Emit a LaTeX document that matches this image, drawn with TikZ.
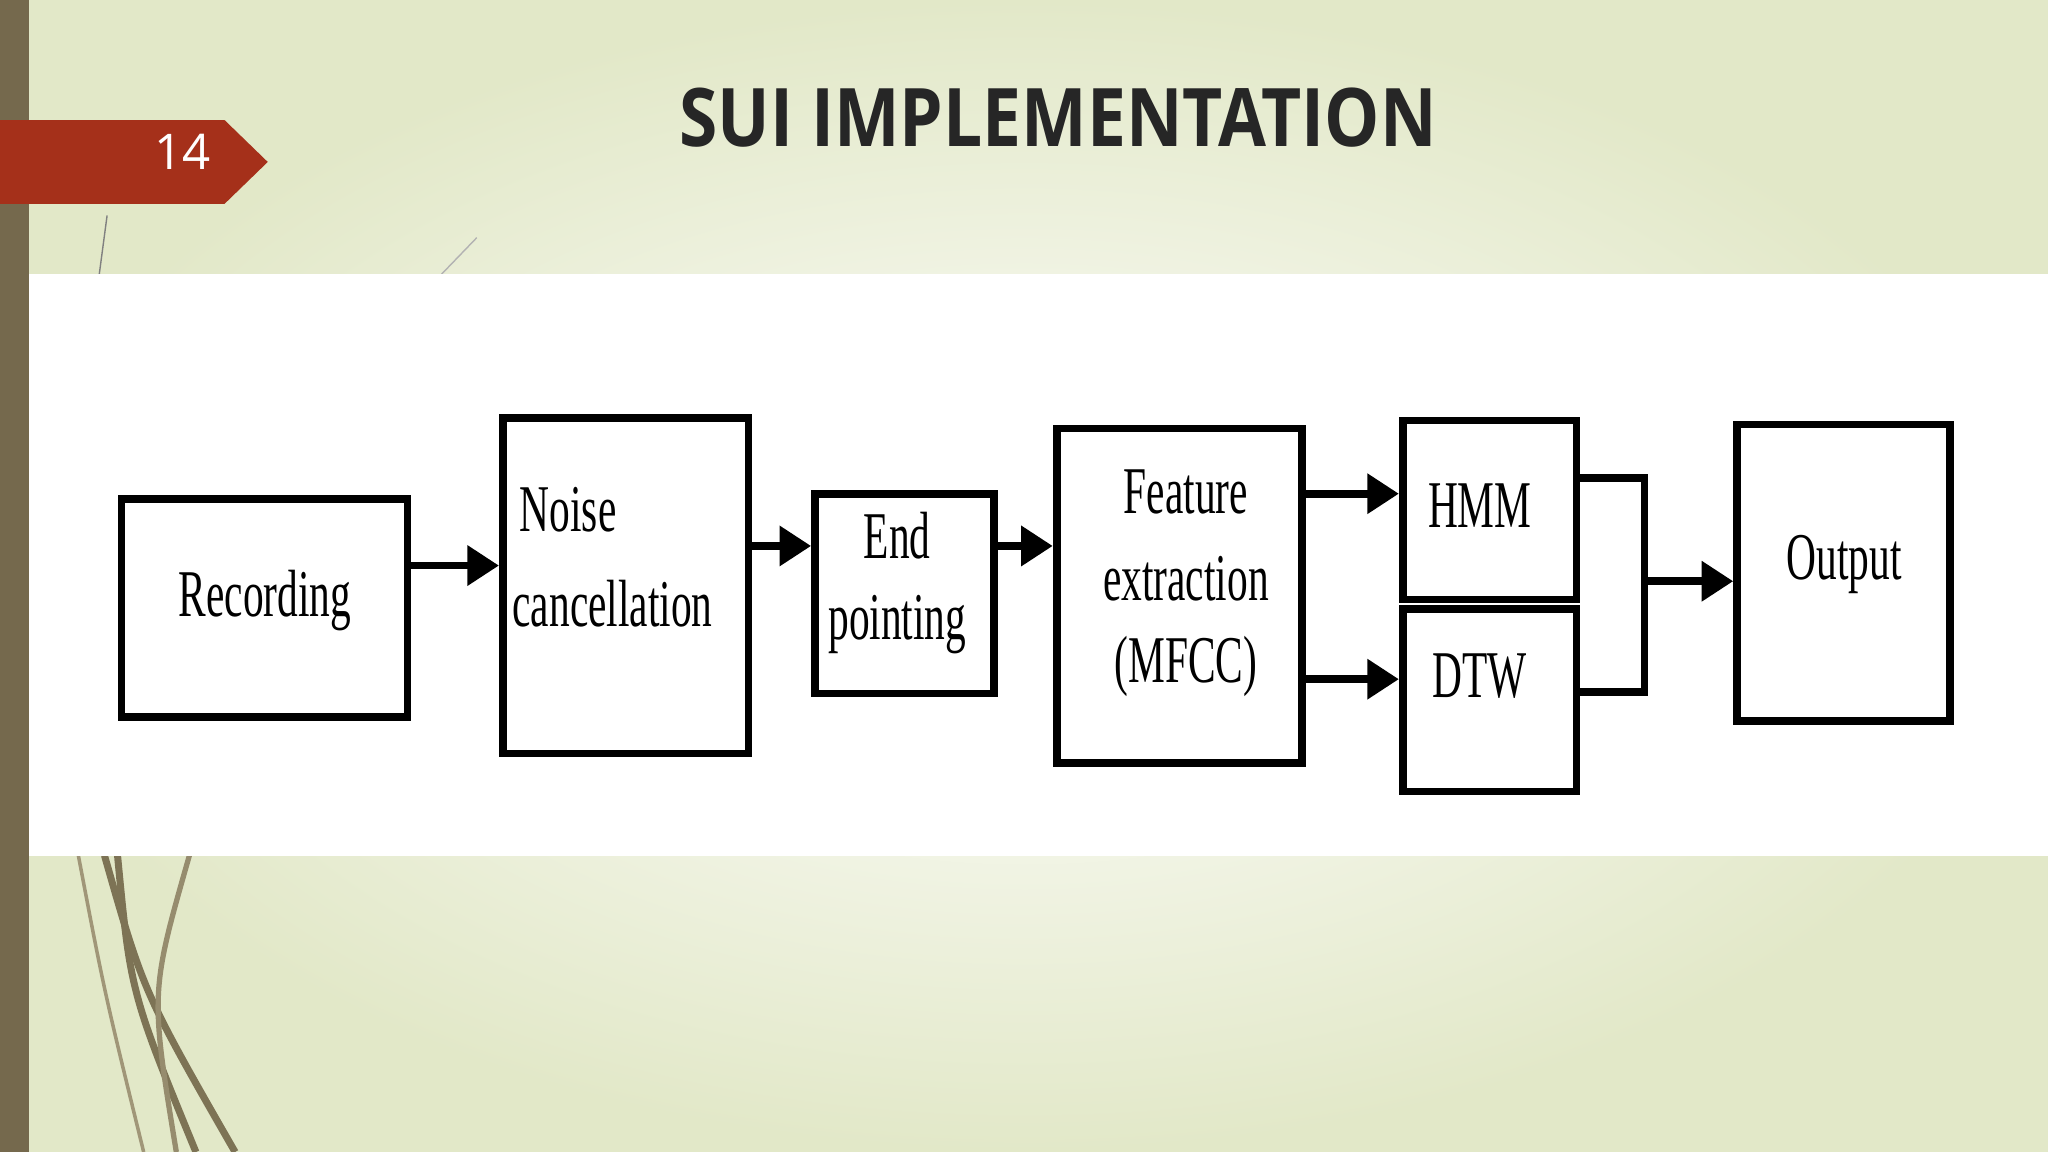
\documentclass[tikz,border=0pt]{standalone}
\usepackage{fontspec}
\setmainfont{Liberation Serif}
\newfontfamily\titlefont{Open Sans}
\usetikzlibrary{arrows.meta}
\begin{document}
\begin{tikzpicture}[x=0.013061cm,y=-0.013061cm,
  blk/.style={draw=black,line width=2.2pt},
  con/.style={line width=2.2pt,-{Triangle[length=9pt,width=11pt]}},
  lab/.style={font=\fontsize{19}{20}\selectfont,inner sep=0pt}]
\useasboundingbox (0,0) rectangle (1568,882);
\definecolor{bgedge}{RGB}{226,232,200}
\shade[inner color=white,outer color=bgedge] (0,0) rectangle (1568,882);
\fill[fill={rgb,255:red,117;green,105;blue,77}] (0,0) rectangle (22,882);
\draw[line width=2pt,color={rgb,255:red,125;green,115;blue,85}] (80,655) .. controls (110,760) .. (180,882);
\draw[line width=2pt,color={rgb,255:red,125;green,115;blue,85}] (90,655) .. controls (100,760) .. (150,882);
\draw[line width=1.5pt,color={rgb,255:red,150;green,140;blue,110}] (145,655) .. controls (115,760) .. (135,882);
\draw[line width=1pt,color={rgb,255:red,160;green,150;blue,120}] (60,655) .. controls (80,760) .. (110,882);
\draw[color=gray] (82,165) -- (76,210);
\draw[color=gray!60] (365,182) -- (338,210);
\fill[fill={rgb,255:red,165;green,48;blue,26}] (0,92) -- (172,92) -- (205,124) -- (172,156) -- (0,156) -- cycle;
\node[text=white,font=\titlefont\fontsize{14}{16}\selectfont] (num) at (140,116) {14};
\node[text={rgb,255:red,38;green,38;blue,38},font=\titlefont\bfseries\fontsize{23}{26}\selectfont] (title) at (810,90) {\scalebox{0.86}[1]{SUI IMPLEMENTATION}};
\fill[white] (22,210) rectangle (1568,655);
\node[blk,minimum width=219*0.013061cm,minimum height=167*0.013061cm] (rec) at (202.5,465.5) {};
\node[blk,minimum width=188*0.013061cm,minimum height=257*0.013061cm] (noi) at (479,448.5) {};
\node[blk,minimum width=137*0.013061cm,minimum height=153*0.013061cm] (end) at (692.5,454.5) {};
\node[blk,minimum width=188*0.013061cm,minimum height=256*0.013061cm] (fea) at (903,456) {};
\node[blk,minimum width=133*0.013061cm,minimum height=137*0.013061cm] (hmm) at (1140.5,390.5) {};
\node[blk,minimum width=133*0.013061cm,minimum height=140*0.013061cm] (dtw) at (1140.5,536) {};
\node[blk,minimum width=163*0.013061cm,minimum height=227*0.013061cm] (out) at (1411.5,438.5) {};
\node[lab] at (203,460) {\scalebox{0.62}[1]{Recording}};
\node[lab] at (435,390) {\scalebox{0.62}[1]{Noise}};
\node[lab] at (469,462) {\scalebox{0.62}[1]{cancellation}};
\node[lab] at (687,410) {\scalebox{0.62}[1]{End}};
\node[lab] at (687,478) {\scalebox{0.62}[1]{pointing}};
\node[lab] at (908,377) {\scalebox{0.62}[1]{Feature}};
\node[lab] at (908,443) {\scalebox{0.62}[1]{extraction}};
\node[lab] at (908,510) {\scalebox{0.62}[1]{(MFCC)}};
\node[lab] at (1133,387) {\scalebox{0.62}[1]{HMM}};
\node[lab] at (1133,518) {\scalebox{0.62}[1]{DTW}};
\node[lab] at (1412,432) {\scalebox{0.62}[1]{Output}};
\draw[con] (rec.east |- 0,433) -- (noi.west |- 0,433);
\draw[con] (noi.east |- 0,418) -- (end.west |- 0,418);
\draw[con] (end.east |- 0,418) -- (fea.west |- 0,418);
\draw[con] (fea.east |- 0,378) -- (hmm.west |- 0,378);
\draw[con] (fea.east |- 0,520) -- (dtw.west |- 0,520);
\coordinate (j) at (1259,445);
\draw[line width=2.2pt] (hmm.east |- 0,366) -| (1259,530) -- (dtw.east |- 0,530);
\draw[con] (j) -- (out.west |- j);
\end{tikzpicture}
\end{document}
